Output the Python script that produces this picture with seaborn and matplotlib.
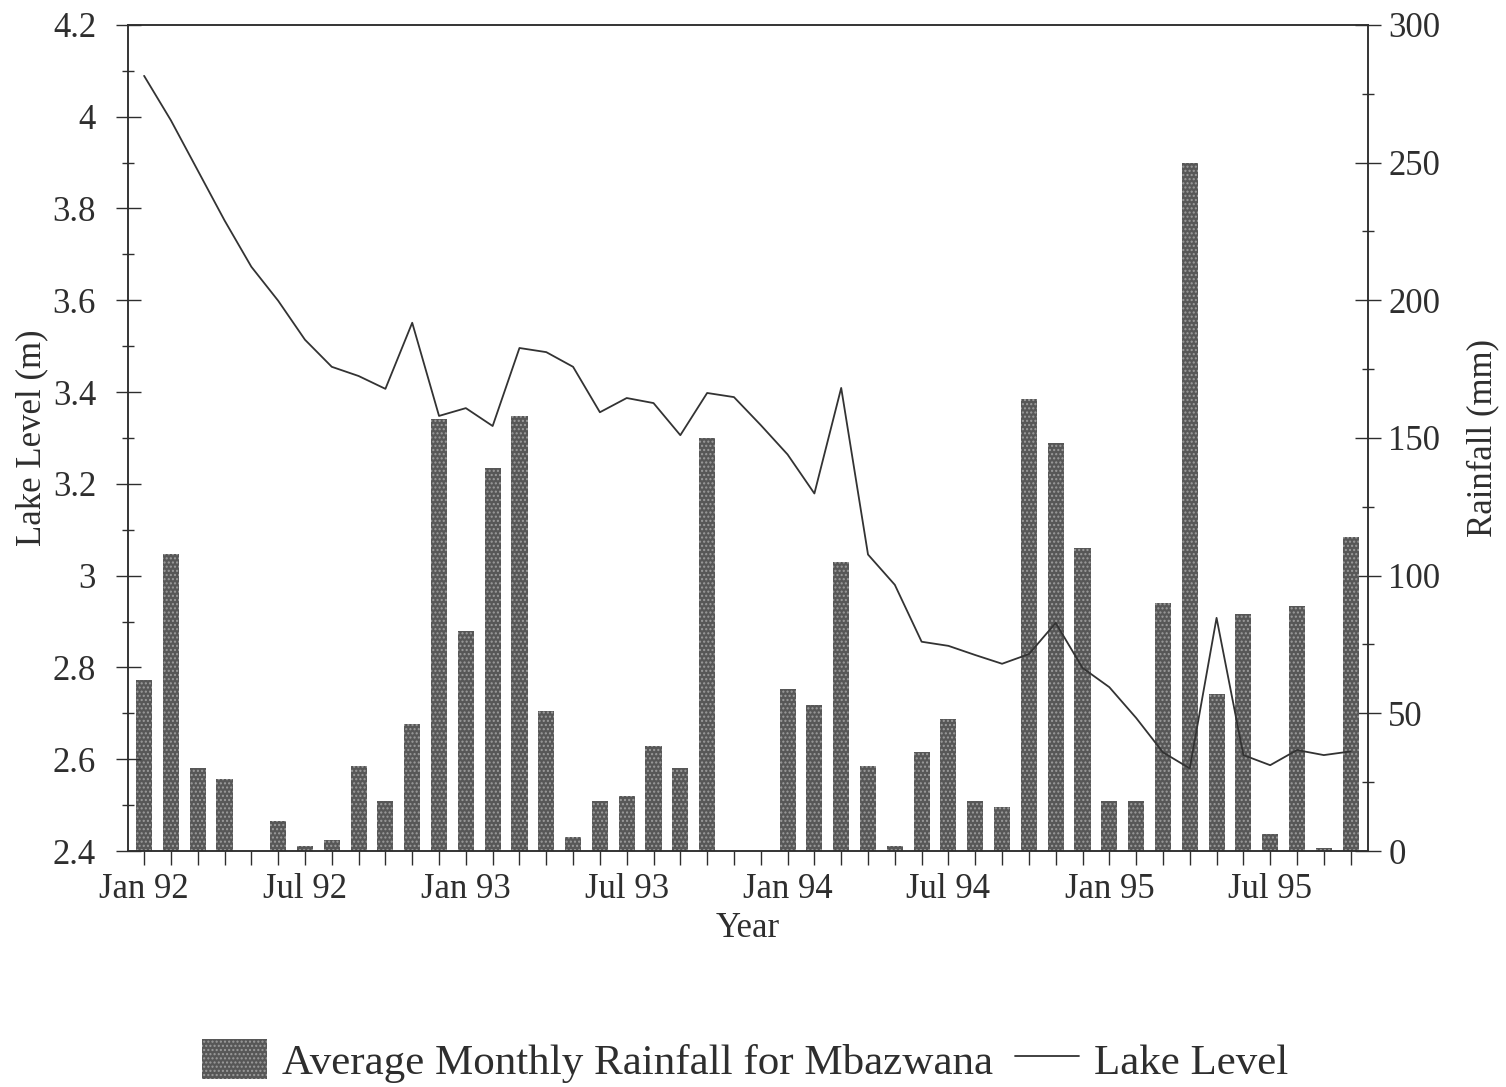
import matplotlib
matplotlib.use("Agg")
import matplotlib.pyplot as plt
import seaborn as sns
import numpy as np
import pandas as pd
from matplotlib.patches import Patch
from matplotlib.lines import Line2D
from matplotlib.ticker import MultipleLocator, FuncFormatter

# ---------------- data ----------------
months = [
    "Jan 92", "Feb 92", "Mar 92", "Apr 92", "May 92", "Jun 92", "Jul 92", "Aug 92", "Sep 92", "Oct 92", "Nov 92", "Dec 92",
    "Jan 93", "Feb 93", "Mar 93", "Apr 93", "May 93", "Jun 93", "Jul 93", "Aug 93", "Sep 93", "Oct 93", "Nov 93", "Dec 93",
    "Jan 94", "Feb 94", "Mar 94", "Apr 94", "May 94", "Jun 94", "Jul 94", "Aug 94", "Sep 94", "Oct 94", "Nov 94", "Dec 94",
    "Jan 95", "Feb 95", "Mar 95", "Apr 95", "May 95", "Jun 95", "Jul 95", "Aug 95", "Sep 95", "Oct 95",
]
rainfall_mm = [
    62, 108, 30, 26, 0, 11, 2, 4, 31, 18, 46, 157,
    80, 139, 158, 51, 5, 18, 20, 38, 30, 150, 0, 0,
    59, 53, 105, 31, 2, 36, 48, 18, 16, 164, 148, 110,
    18, 18, 90, 250, 57, 86, 6, 89, 1, 114,
]
lake_level_m = [
    4.089, 3.992, 3.883, 3.774, 3.673, 3.599, 3.514, 3.455, 3.435, 3.407, 3.551, 3.348,
    3.365, 3.326, 3.496, 3.487, 3.455, 3.356, 3.387, 3.376, 3.306, 3.398, 3.389, 3.328,
    3.264, 3.179, 3.409, 3.046, 2.980, 2.856, 2.847, 2.827, 2.808, 2.829, 2.897, 2.799,
    2.757, 2.690, 2.615, 2.580, 2.908, 2.609, 2.587, 2.620, 2.609, 2.617,
]
tick_labels = ["Jan 92", "Jul 92", "Jan 93", "Jul 93", "Jan 94", "Jul 94", "Jan 95", "Jul 95"]

# ---------------- style ----------------
sns.set_style("ticks")
plt.rcParams["font.family"] = ["Liberation Serif", "DejaVu Serif"]
plt.rcParams["hatch.linewidth"] = 1.0
INK = "#2e2e2e"
BAR_FACE = "#575757"
BAR_HATCH = "#9c9c9c"
for k in ("text.color", "axes.labelcolor", "xtick.color", "ytick.color", "axes.edgecolor"):
    plt.rcParams[k] = INK

idx = np.arange(len(months))
df = pd.DataFrame({"idx": idx, "month": months, "rain": rainfall_mm, "lake": lake_level_m})

fig = plt.figure(figsize=(15.06, 10.87), dpi=100)
ax1 = fig.add_axes([0.085, 0.2171, 0.8234, 0.760])

sns.lineplot(data=df, x="idx", y="lake", ax=ax1, color="#333333", linewidth=1.3)

ax2 = ax1.twinx()
sns.barplot(data=df, x="idx", y="rain", ax=ax2, color=BAR_FACE, saturation=1,
            width=0.6, edgecolor=BAR_HATCH, linewidth=0, hatch="....")

ax1.set_zorder(ax2.get_zorder() + 1)
ax1.patch.set_visible(False)

ax1.set_xlim(-0.6, 45.65)
ax1.set_ylim(2.4, 4.2)
ax2.set_ylim(0, 300)

ax1.set_xticks(idx)
ax1.set_xticklabels([m if m in tick_labels else "" for m in months])

ax1.yaxis.set_major_locator(MultipleLocator(0.2))
ax1.yaxis.set_minor_locator(MultipleLocator(0.1))
ax1.yaxis.set_major_formatter(FuncFormatter(lambda v, p: f"{v:g}"))
ax2.yaxis.set_major_locator(MultipleLocator(50))
ax2.yaxis.set_minor_locator(MultipleLocator(25))
ax2.yaxis.set_major_formatter(FuncFormatter(lambda v, p: f"{v:.0f}"))

ax1.tick_params(axis="x", which="major", direction="out", length=10, width=1.0, pad=6, labelsize=25)
ax1.tick_params(axis="y", which="major", direction="inout", length=18, width=1.0, pad=14, labelsize=25)
ax1.tick_params(axis="y", which="minor", direction="inout", length=8, width=1.0)
ax2.tick_params(axis="y", which="major", direction="inout", length=19, width=1.0, pad=5, labelsize=25)
ax2.tick_params(axis="y", which="minor", direction="inout", length=8, width=1.0)

for ax in (ax1, ax2):
    for s in ax.spines.values():
        s.set_visible(True)
        s.set_linewidth(1.1)
        s.set_color(INK)

ax1.set_xlabel("Year", fontsize=25, labelpad=4)
ax1.set_ylabel("Lake Level (m)", fontsize=25, labelpad=3)
ax2.set_ylabel("Rainfall (mm)", fontsize=25, labelpad=19)

handles = [
    Patch(facecolor=BAR_FACE, edgecolor=BAR_HATCH, hatch="....", linewidth=0),
    Line2D([], [], color="#333333", linewidth=1.3),
]
labels = ["Average Monthly Rainfall for Mbazwana", "Lake Level"]
fig.legend(handles, labels, loc="center", bbox_to_anchor=(0.495, 0.024), ncol=2,
           frameon=False, fontsize=31, handlelength=1.5, handleheight=1.05,
           handletextpad=0.35, columnspacing=0.5)

fig.savefig("out.png", dpi=100, facecolor="white")
